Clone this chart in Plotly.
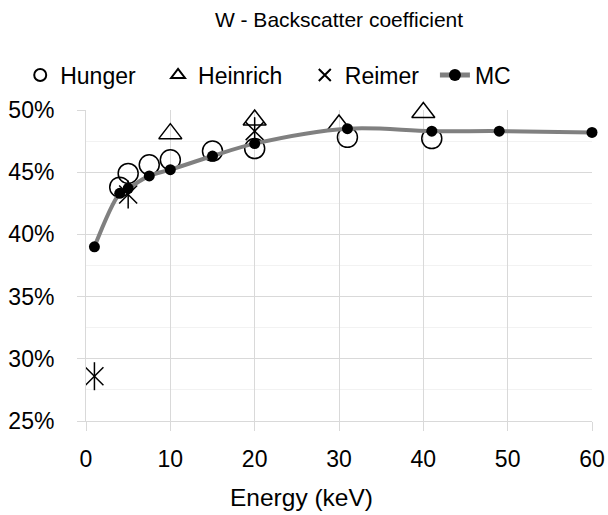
import plotly.graph_objects as go

# Backscatter coefficient of tungsten vs. primary energy
hunger_e = [4, 5, 7.5, 10, 15, 20, 31, 41]
hunger_eta = [0.438, 0.449, 0.456, 0.460, 0.467, 0.469, 0.478, 0.477]

heinrich_e = [10, 20, 30, 40]
heinrich_eta = [0.481, 0.492, 0.488, 0.498]

reimer_e = [1, 5, 20]
reimer_eta = [0.286, 0.432, 0.483]

mc_e = [1, 4, 5, 7.5, 10, 15, 20, 31, 41, 49, 60]
mc_eta = [0.390, 0.433, 0.437, 0.447, 0.452, 0.463, 0.473, 0.485, 0.483, 0.483, 0.482]

FONT = "Liberation Sans"
GRID = "#d9d9d9"
# non-breaking spaces widen the gap between legend entries
PAD = "\u00a0\u00a0\u2009"
PAD_SHORT = "\u00a0\u2009"

fig = go.Figure()

fig.add_trace(go.Scatter(
    x=hunger_e, y=hunger_eta, mode="markers", name="Hunger" + PAD,
    marker=dict(symbol="circle-open", size=20, color="black", line=dict(width=1.5)),
    cliponaxis=False,
))
fig.add_trace(go.Scatter(
    x=heinrich_e, y=heinrich_eta, mode="markers", name="Heinrich" + PAD,
    marker=dict(symbol="triangle-up-open", size=20, color="black", line=dict(width=1.5)),
    cliponaxis=False,
))
fig.add_trace(go.Scatter(
    x=reimer_e, y=reimer_eta, mode="markers", name="Reimer" + PAD_SHORT, legendgroup="reimer",
    marker=dict(symbol="x-thin-open", size=18, color="black", line=dict(width=1.5, color="black")),
    cliponaxis=False,
))
fig.add_trace(go.Scatter(
    x=reimer_e, y=reimer_eta, mode="markers", name="Reimer", legendgroup="reimer",
    showlegend=False,
    marker=dict(symbol="line-ns-open", size=20, color="black", line=dict(width=1.5, color="black")),
    cliponaxis=False,
))
fig.add_trace(go.Scatter(
    x=mc_e, y=mc_eta, mode="lines+markers", name="MC",
    line=dict(color="#808080", width=4, shape="spline", smoothing=1.0),
    marker=dict(symbol="circle", size=11, color="black"),
    cliponaxis=False,
))

fig.update_layout(
    width=608, height=515,
    margin=dict(l=86, r=16, t=110, b=94),
    paper_bgcolor="white", plot_bgcolor="white",
    font=dict(family=FONT, color="black", size=20),
    title=dict(text="W - Backscatter coefficient", x=0.5, xref="paper", xanchor="center",
               y=1 - 20 / 515, yref="container", yanchor="middle",
               font=dict(family=FONT, size=21, color="black")),
    legend=dict(orientation="h", x=-0.13, xanchor="left", y=1.1125, yanchor="middle",
                font=dict(family=FONT, size=23, color="black"), itemsizing="constant",
                bgcolor="rgba(0,0,0,0)"),
    showlegend=True,
    annotations=[dict(text="Energy (keV)", x=(301.5 - 86.5) / 505.5, xref="paper",
                      y=-76 / 311, yref="paper", xanchor="center", yanchor="middle",
                      showarrow=False, font=dict(family=FONT, size=24.5, color="black"))],
)

fig.update_xaxes(
    range=[0, 60], dtick=10, tick0=0, automargin=False,
    showgrid=True, gridcolor=GRID, gridwidth=1,
    showline=True, linecolor=GRID, linewidth=1,
    ticks="outside", ticklen=9, tickcolor=GRID,
    tickfont=dict(family=FONT, size=23, color="black"),
    zeroline=False, ticklabelstandoff=8,
)
fig.update_yaxes(
    range=[0.25, 0.5], dtick=0.05, tick0=0.25, tickformat=".0%", automargin=False,
    showgrid=True, gridcolor=GRID, gridwidth=1,
    minor=dict(dtick=0.025, showgrid=True, gridcolor="#f2f2f2", gridwidth=1),
    showline=True, linecolor=GRID, linewidth=1,
    ticks="outside", ticklen=8, tickcolor=GRID,
    tickfont=dict(family=FONT, size=23, color="black"),
    zeroline=False, ticklabelstandoff=18,
)

fig.write_html("out.html")
